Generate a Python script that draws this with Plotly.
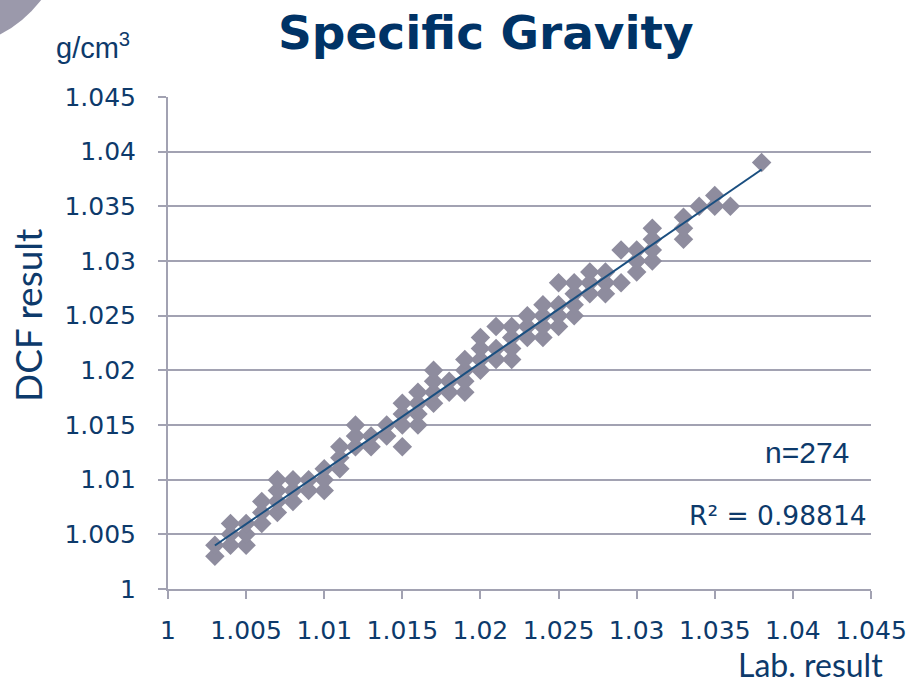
import numpy as np
import plotly.graph_objects as go

# ---------------- data ----------------
lab_result = [
    1.003, 1.003,
    1.004, 1.004, 1.004,
    1.005, 1.005, 1.005,
    1.006, 1.006, 1.006,
    1.007, 1.007, 1.007, 1.007,
    1.008, 1.008, 1.008,
    1.009, 1.009,
    1.010, 1.010, 1.010,
    1.011, 1.011, 1.011,
    1.012, 1.012, 1.012,
    1.013, 1.013,
    1.014, 1.014,
    1.015, 1.015, 1.015, 1.015,
    1.016, 1.016, 1.016, 1.016,
    1.017, 1.017, 1.017, 1.017,
    1.018, 1.018,
    1.019, 1.019, 1.019, 1.019,
    1.020, 1.020, 1.020, 1.020,
    1.021, 1.021, 1.021,
    1.022, 1.022, 1.022, 1.022,
    1.023, 1.023, 1.023,
    1.024, 1.024, 1.024, 1.024,
    1.025, 1.025, 1.025, 1.025,
    1.026, 1.026, 1.026, 1.026,
    1.027, 1.027, 1.027,
    1.028, 1.028, 1.028,
    1.029, 1.029,
    1.030, 1.030, 1.030,
    1.031, 1.031, 1.031, 1.031,
    1.033, 1.033, 1.033,
    1.034,
    1.035, 1.035,
    1.036,
    1.038,
]
dcf_result = [
    1.003, 1.004,
    1.004, 1.005, 1.006,
    1.004, 1.005, 1.006,
    1.006, 1.007, 1.008,
    1.007, 1.008, 1.009, 1.010,
    1.008, 1.009, 1.010,
    1.009, 1.010,
    1.009, 1.010, 1.011,
    1.011, 1.012, 1.013,
    1.013, 1.014, 1.015,
    1.013, 1.014,
    1.014, 1.015,
    1.013, 1.015, 1.016, 1.017,
    1.015, 1.016, 1.017, 1.018,
    1.017, 1.018, 1.019, 1.020,
    1.018, 1.019,
    1.018, 1.019, 1.020, 1.021,
    1.020, 1.021, 1.022, 1.023,
    1.021, 1.022, 1.024,
    1.021, 1.022, 1.023, 1.024,
    1.023, 1.024, 1.025,
    1.023, 1.024, 1.025, 1.026,
    1.024, 1.025, 1.026, 1.028,
    1.025, 1.026, 1.027, 1.028,
    1.027, 1.028, 1.029,
    1.027, 1.028, 1.029,
    1.028, 1.031,
    1.029, 1.030, 1.031,
    1.030, 1.031, 1.032, 1.033,
    1.032, 1.033, 1.034,
    1.035,
    1.035, 1.036,
    1.035,
    1.039,
]
tick_values = [1.000, 1.005, 1.010, 1.015, 1.020, 1.025, 1.030, 1.035, 1.040, 1.045]
tick_labels = ["1", "1.005", "1.01", "1.015", "1.02", "1.025", "1.03", "1.035", "1.04", "1.045"]
n_label = "n=274"
r2_label = "R² = 0.98814"
title_text = "Specific Gravity"
unit_text = "g/cm<sup>3</sup>"
y_title = "DCF result"
x_title = "Lab. result"

# ---------------- styling ----------------
W, H = 916, 682
ML, MR, MT, MB = 168, 45, 97, 93
PW, PH = W - ML - MR, H - MT - MB
NAVY = "#0d3a6b"
TITLE_NAVY = "#003366"
GRID = "#a2a2b2"
MARKER = "#8e8c9e"
LINE = "#1a4f80"


def px(x):
    return (x - ML) / PW


def py(y):
    return (H - MB - y) / PH


# linear trend line fitted to the data
xs = np.array(lab_result)
ys = np.array(dcf_result)
slope, intercept = np.polyfit(xs, ys, 1)
trend_x = np.array([xs.min(), xs.max()])
trend_y = slope * trend_x + intercept

fig = go.Figure()
fig.add_trace(go.Scatter(
    x=lab_result, y=dcf_result, mode="markers",
    marker=dict(symbol="diamond", size=15, color=MARKER, line=dict(width=0)),
    showlegend=False, hoverinfo="x+y",
))
fig.add_trace(go.Scatter(
    x=trend_x, y=trend_y, mode="lines",
    line=dict(color=LINE, width=2),
    showlegend=False, hoverinfo="skip",
))

axis_font = dict(family="DejaVu Sans, Verdana, sans-serif", size=25, color=NAVY)

fig.update_xaxes(
    range=[1.0, 1.045], tickvals=tick_values, ticktext=tick_labels,
    showgrid=False, zeroline=False, showline=True, linecolor=GRID, linewidth=2,
    ticks="outside", ticklen=8, tickwidth=2, tickcolor=GRID,
    tickfont=axis_font, ticklabelstandoff=10, automargin=False,
)
fig.update_yaxes(
    range=[1.0, 1.045], tickvals=tick_values, ticktext=tick_labels,
    showgrid=True, gridcolor=GRID, gridwidth=2, zeroline=False,
    showline=True, linecolor=GRID, linewidth=2,
    ticks="outside", ticklen=8, tickwidth=2, tickcolor=GRID,
    tickfont=axis_font, ticklabelstandoff=17, automargin=False,
)

annotations = [
    dict(text=title_text, x=px(486), y=py(33), xref="paper", yref="paper",
         xanchor="center", yanchor="middle", showarrow=False,
         font=dict(family="DejaVu Sans, Verdana, sans-serif", size=47,
                   color=TITLE_NAVY, weight="bold")),
    dict(text=unit_text, x=px(54), y=py(46), xref="paper", yref="paper",
         xanchor="left", yanchor="middle", showarrow=False,
         font=dict(family="Liberation Sans, Arial, sans-serif", size=29, color=NAVY)),
    dict(text=y_title, x=px(27), y=py(316), xref="paper", yref="paper",
         xanchor="center", yanchor="middle", textangle=-90, showarrow=False,
         font=dict(family="Lato, Calibri, sans-serif", size=37, color=NAVY)),
    dict(text=x_title, x=px(885), y=py(664), xref="paper", yref="paper",
         xanchor="right", yanchor="middle", showarrow=False,
         font=dict(family="Lato, Calibri, sans-serif", size=32, color=NAVY)),
    dict(text=n_label, x=px(851), y=py(452), xref="paper", yref="paper",
         xanchor="right", yanchor="middle", showarrow=False,
         font=dict(family="Liberation Sans, Arial, sans-serif", size=30, color=NAVY)),
    dict(text=r2_label, x=px(869), y=py(515), xref="paper", yref="paper",
         xanchor="right", yanchor="middle", showarrow=False,
         font=dict(family="DejaVu Sans, Verdana, sans-serif", size=26.5, color=NAVY)),
]

corner = "M {:.4f},{:.4f} L {:.4f},{:.4f} Q {:.4f},{:.4f} {:.4f},{:.4f} Z".format(
    px(-5), py(-5), px(45), py(-5), px(24), py(24), px(-5), py(37))

fig.update_layout(
    width=W, height=H, autosize=False,
    margin=dict(l=ML, r=MR, t=MT, b=MB),
    paper_bgcolor="white", plot_bgcolor="white",
    annotations=annotations,
    shapes=[dict(type="path", path=corner, xref="paper", yref="paper",
                 fillcolor="#9b99ab", line=dict(width=0), layer="above")],
)

fig.write_html(
    "out.html",
    config={"displayModeBar": False},
    post_script="document.body.style.margin='0';document.body.style.overflow='hidden';",
)
